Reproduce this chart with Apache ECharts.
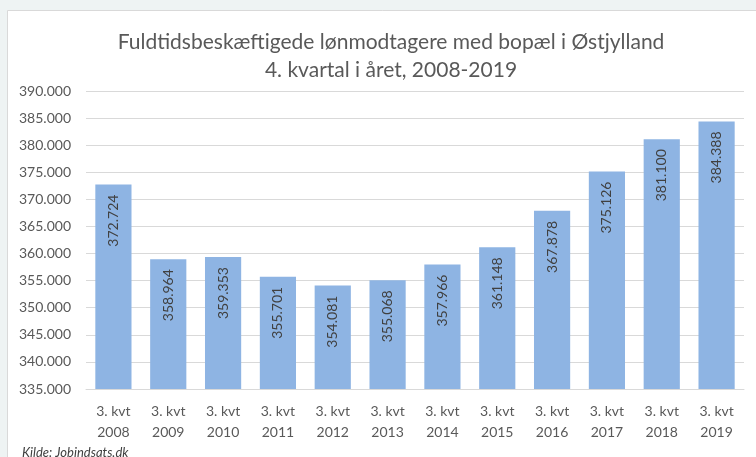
<!DOCTYPE html>
<html>
<head>
<meta charset="utf-8">
<script src="https://cdn.jsdelivr.net/npm/echarts@6/dist/echarts.min.js"></script>
<style>
  html, body { margin: 0; padding: 0; background: #eef3f3; }
  #chart { width: 756px; height: 457px; }
</style>
</head>
<body>
<div id="chart"></div>
<script>
// kvartaler og antal lønmodtagere
const years = ['2008', '2009', '2010', '2011', '2012', '2013', '2014', '2015', '2016', '2017', '2018', '2019'];
const values = [372724, 358964, 359353, 355701, 354081, 355068, 357966, 361148, 367878, 375126, 381100, 384388];
const yMin = 335000;
const yMax = 390000;
const yStep = 5000;

const categories = years.map(y => '3. kvt\n' + y);

// dansk tusindtalsseparator
function fmt(v) {
  return String(v).replace(/\B(?=(\d{3})+(?!\d))/g, '.');
}

const chart = echarts.init(document.getElementById('chart'));
chart.setOption({
  animation: false,
  textStyle: { fontFamily: 'Lato' },
  graphic: [
    {
      type: 'rect',
      z: -10,
      shape: { x: 7.5, y: 10.5, width: 760, height: 460 },
      style: { fill: '#ffffff', stroke: '#d9d9d9', lineWidth: 1 }
    },
    {
      type: 'text',
      left: 22,
      top: 446,
      style: {
        text: 'Kilde: Jobindsats.dk',
        font: 'italic 13px Lato',
        fill: '#404040'
      }
    }
  ],
  title: {
    text: 'Fuldtidsbeskæftigede lønmodtagere med bopæl i Østjylland\n4. kvartal i året, 2008-2019',
    left: 386,
    textAlign: 'center',
    top: 23,
    textStyle: {
      fontSize: 21,
      fontWeight: 'normal',
      color: '#595959',
      lineHeight: 28
    }
  },
  grid: { left: 86, right: 12, top: 91, bottom: 68 },
  xAxis: {
    type: 'category',
    data: categories,
    axisLine: { lineStyle: { color: '#d9d9d9' } },
    axisTick: { show: false },
    axisLabel: {
      color: '#595959',
      fontSize: 14,
      lineHeight: 21,
      margin: 12,
      interval: 0
    }
  },
  yAxis: {
    type: 'value',
    min: yMin,
    max: yMax,
    interval: yStep,
    axisLine: { show: false },
    axisTick: { show: false },
    splitLine: { lineStyle: { color: '#d9d9d9' } },
    axisLabel: {
      color: '#595959',
      fontSize: 14,
      margin: 15,
      formatter: v => fmt(v)
    }
  },
  series: [{
    type: 'bar',
    data: values,
    barWidth: '66%',
    itemStyle: { color: '#8eb4e3' },
    label: {
      show: true,
      position: 'insideTop',
      rotate: 90,
      align: 'right',
      verticalAlign: 'middle',
      distance: 10,
      color: '#404040',
      fontSize: 14,
      formatter: p => fmt(p.value)
    }
  }]
});
</script>
</body>
</html>
